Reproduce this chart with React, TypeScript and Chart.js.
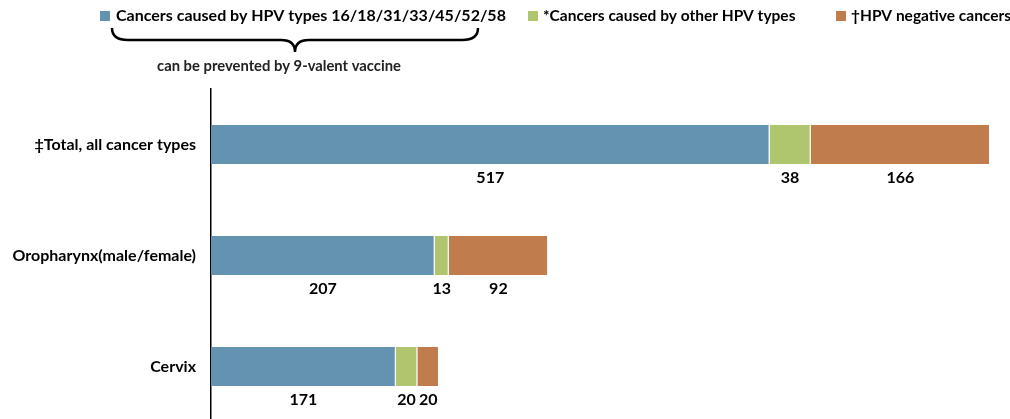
import React, { useEffect, useRef } from "react";
import { Chart, registerables } from "chart.js";

Chart.register(...registerables);

const categories = ["‡Total, all cancer types", "Oropharynx(male/female)", "Cervix"];
const hpv9Types = [517, 207, 171];
const otherHpvTypes = [38, 13, 20];
const hpvNegative = [166, 92, 20];
const seriesNames = [
  "Cancers caused by HPV types 16/18/31/33/45/52/58",
  "*Cancers caused by other HPV types",
  "†HPV negative cancers",
];
const subtitleText = "can be prevented by 9-valent vaccine";

const COLORS = ["#6393B1", "#AFC56E", "#C17C4D"];
const FONT = "Lato, 'Open Sans', sans-serif";

export default function App() {
  const ref = useRef<HTMLCanvasElement | null>(null);

  useEffect(() => {
    if (!ref.current) return;
    const totalMax = hpv9Types[0] + otherHpvTypes[0] + hpvNegative[0];

    const overlay = {
      id: "overlay",
      afterDatasetsDraw(chart: any) {
        const ctx = chart.ctx;
        ctx.save();
        // value labels under each segment
        ctx.fillStyle = "#000";
        ctx.font = `bold 16px ${FONT}`;
        ctx.textAlign = "center";
        ctx.textBaseline = "middle";
        chart.data.datasets.forEach((ds: any, di: number) => {
          const meta = chart.getDatasetMeta(di);
          meta.data.forEach((el: any, i: number) => {
            const x = (el.x + el.base) / 2;
            const y = el.y + el.height / 2 + 14;
            ctx.fillText(String(ds.data[i]), x, y);
          });
        });

        // legend
        const items = [
          { sq: 100, tx: 116, size: 16 },
          { sq: 528, tx: 543, size: 15.5 },
          { sq: 836, tx: 851, size: 15.5 },
        ];
        ctx.textAlign = "left";
        items.forEach((it, k) => {
          ctx.fillStyle = COLORS[k];
          ctx.fillRect(it.sq, 11, 10, 10);
          ctx.fillStyle = "#000";
          ctx.font = `bold ${it.size}px ${FONT}`;
          ctx.fillText(seriesNames[k], it.tx, 16);
        });

        // brace
        ctx.strokeStyle = "#000";
        ctx.lineWidth = 2.5;
        ctx.beginPath();
        ctx.moveTo(112, 28);
        ctx.quadraticCurveTo(112, 40, 128, 40);
        ctx.lineTo(281, 40);
        ctx.quadraticCurveTo(295, 40, 295, 52);
        ctx.quadraticCurveTo(295, 40, 309, 40);
        ctx.lineTo(462, 40);
        ctx.quadraticCurveTo(478, 40, 478, 28);
        ctx.stroke();

        ctx.fillStyle = "#222";
        ctx.font = `bold 14.8px ${FONT}`;
        ctx.textAlign = "center";
        ctx.fillText(subtitleText, 279, 66);
        ctx.restore();
      },
    };

    const chart = new Chart(ref.current, {
      type: "bar",
      data: {
        labels: categories,
        datasets: [hpv9Types, otherHpvTypes, hpvNegative].map((d, k) => ({
          label: seriesNames[k],
          data: d,
          backgroundColor: COLORS[k],
          borderColor: "rgba(255,255,255,0.6)",
          borderWidth: { left: 0, right: 1, top: 0, bottom: 0 },
          categoryPercentage: 1,
          barPercentage: 0.35,
        })),
      },
      options: {
        indexAxis: "y",
        animation: false,
        responsive: true,
        maintainAspectRatio: false,
        layout: { padding: { top: 89, bottom: 3, right: 20, left: 0 } },
        plugins: { legend: { display: false }, tooltip: { enabled: false } },
        scales: {
          x: { display: false, stacked: true, min: 0, max: totalMax },
          y: {
            stacked: true,
            grid: { display: false, drawTicks: false },
            border: { display: true, color: "#000", width: 1.5 },
            ticks: {
              padding: 15,
              color: "#000",
              font: { family: FONT, weight: "bold", size: 16 },
            },
            afterFit(scale: any) {
              scale.width = 211;
              scale.paddingTop = 0;
              scale.paddingBottom = 0;
            },
          },
        },
      } as any,
      plugins: [overlay],
    });
    return () => chart.destroy();
  }, []);

  return (
    <div
      style={{
        position: "absolute",
        left: 0,
        top: 0,
        width: 1010,
        height: 419,
        overflow: "hidden",
        background: "#fff",
      }}
    >
      <div style={{ position: "relative", width: 1010, height: 425 }}>
        <canvas ref={ref} />
      </div>
    </div>
  );
}
